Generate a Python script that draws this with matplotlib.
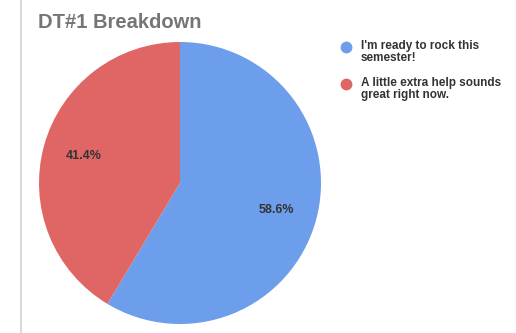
import numpy as np
import matplotlib.pyplot as plt
from matplotlib.lines import Line2D

labels = ["I'm ready to rock this\nsemester!", "A little extra help sounds\ngreat right now."]
values = [58.6, 41.4]
colors = ["#6d9eeb", "#e06666"]

W, H = 516, 333
fig = plt.figure(figsize=(W / 100, H / 100), dpi=100)
fig.patch.set_facecolor("white")

# thin grey frame edge at the left
fig.add_artist(Line2D([21 / W, 21 / W], [0, 1], color="#d9d9d9", lw=1.5))

fig.text(38 / W, 1 - 22 / H, "DT#1 Breakdown", fontsize=14.5, fontweight="bold",
         color="#757575", va="center", ha="left", family="Liberation Sans")

cx, cy, r = 180, 183, 141
ax = fig.add_axes([(cx - r) / W, (H - cy - r) / H, 2 * r / W, 2 * r / H])
wedges, _ = ax.pie(values, colors=colors, startangle=90, counterclock=False,
                   wedgeprops=dict(linewidth=0), radius=1)
for w, v in zip(wedges, values):
    ang = np.deg2rad((w.theta1 + w.theta2) / 2)
    ax.text(0.71 * np.cos(ang), 0.71 * np.sin(ang), f"{v:.1f}%", ha="center", va="center",
            fontsize=9, fontweight="bold", color="#333333", family="Liberation Sans")
ax.set_xlim(-1, 1)
ax.set_ylim(-1, 1)
ax.set_aspect("equal")
ax.axis("off")

# legend entries
ys = [47, 84]
for lab, c, y in zip(labels, colors, ys):
    fig.add_artist(Line2D([346 / W], [1 - y / H], marker="o", markersize=7.5,
                          color=c, linestyle="none"))
    fig.text(361 / W, 1 - (y - 7) / H, lab, fontsize=8.5, fontweight="bold",
             color="#333333", va="top", ha="left", linespacing=0.95,
             family="Liberation Sans")

fig.savefig("out.png", dpi=100)
